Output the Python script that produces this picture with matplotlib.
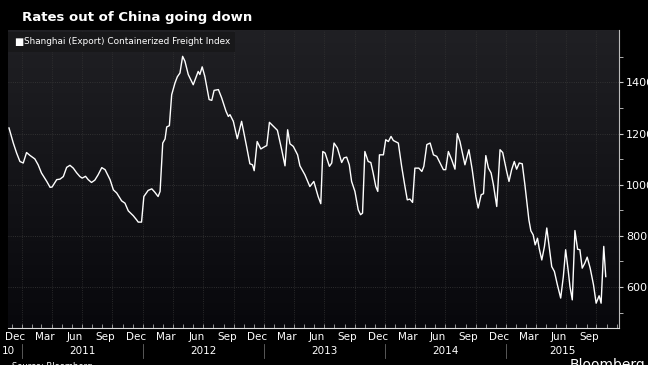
import matplotlib.pyplot as plt
import matplotlib.dates as mdates
import matplotlib.colors as mcolors
import numpy as np
import pandas as pd

title = 'Rates out of China going down'
series_name = 'Shanghai (Export) Containerized Freight Index'

dates = [
    '2010-11-23', '2010-12-06', '2010-12-16', '2010-12-26', '2011-01-05', '2011-01-15',
    '2011-01-25', '2011-02-09', '2011-02-19', '2011-03-01', '2011-03-17', '2011-03-27',
    '2011-04-02', '2011-04-16', '2011-04-26', '2011-05-06', '2011-05-16', '2011-05-26',
    '2011-06-05', '2011-06-15', '2011-06-25', '2011-07-02', '2011-07-12', '2011-07-20',
    '2011-07-30', '2011-08-09', '2011-08-19', '2011-08-30', '2011-09-09', '2011-09-24',
    '2011-10-04', '2011-10-14', '2011-10-29', '2011-11-08', '2011-11-18', '2011-12-03',
    '2011-12-13', '2011-12-18', '2011-12-28', '2012-01-04', '2012-01-17', '2012-01-28',
    '2012-02-06', '2012-02-16', '2012-02-22', '2012-03-01', '2012-03-08', '2012-03-13',
    '2012-03-21', '2012-03-28', '2012-04-07', '2012-04-14', '2012-04-22', '2012-04-30',
    '2012-05-07', '2012-05-17', '2012-06-01', '2012-06-16', '2012-06-21', '2012-06-28',
    '2012-07-06', '2012-07-19', '2012-07-27', '2012-08-03', '2012-08-16', '2012-08-26',
    '2012-09-08', '2012-09-15', '2012-09-20', '2012-09-30', '2012-10-12', '2012-10-25',
    '2012-11-09', '2012-11-19', '2012-11-27', '2012-12-02', '2012-12-11', '2012-12-22',
    '2013-01-04', '2013-01-09', '2013-01-17', '2013-01-27', '2013-02-10', '2013-02-23',
    '2013-03-05', '2013-03-13', '2013-03-20', '2013-03-30', '2013-04-12', '2013-04-19',
    '2013-05-04', '2013-05-19', '2013-05-31', '2013-06-13', '2013-06-21', '2013-06-27',
    '2013-07-04', '2013-07-17', '2013-07-24', '2013-07-31', '2013-08-10', '2013-08-23',
    '2013-08-30', '2013-09-07', '2013-09-15', '2013-09-22', '2013-10-02', '2013-10-12',
    '2013-10-19', '2013-10-25', '2013-11-01', '2013-11-11', '2013-11-19', '2013-11-26',
    '2013-12-04', '2013-12-10', '2013-12-15', '2013-12-27', '2014-01-03', '2014-01-11',
    '2014-01-19', '2014-01-26', '2014-02-10', '2014-02-20', '2014-03-02', '2014-03-09',
    '2014-03-17', '2014-03-25', '2014-04-01', '2014-04-13', '2014-04-22', '2014-04-28',
    '2014-05-07', '2014-05-17', '2014-05-27', '2014-06-06', '2014-06-16', '2014-06-26',
    '2014-07-03', '2014-07-11', '2014-07-21', '2014-07-31', '2014-08-07', '2014-08-15',
    '2014-08-30', '2014-09-11', '2014-09-21', '2014-10-02', '2014-10-09', '2014-10-18',
    '2014-10-25', '2014-11-01', '2014-11-09', '2014-11-17', '2014-11-24', '2014-12-04',
    '2014-12-14', '2014-12-22', '2015-01-03', '2015-01-10', '2015-01-18', '2015-01-26',
    '2015-02-02', '2015-02-10', '2015-02-19', '2015-02-27', '2015-03-11', '2015-03-17',
    '2015-03-24', '2015-03-30', '2015-04-06', '2015-04-11', '2015-04-19', '2015-04-27',
    '2015-05-04', '2015-05-11', '2015-05-19', '2015-05-27', '2015-06-05', '2015-06-15',
    '2015-06-23', '2015-06-30', '2015-07-08', '2015-07-13', '2015-07-20', '2015-07-28',
    '2015-08-05', '2015-08-12', '2015-08-19', '2015-08-27', '2015-09-03', '2015-09-12',
    '2015-09-22', '2015-09-30', '2015-10-09', '2015-10-15', '2015-10-23', '2015-10-29',
]

values = [
    1222, 1163, 1124, 1091, 1085, 1126, 1115, 1101, 1078, 1046, 1013, 990,
    991, 1020, 1022, 1032, 1068, 1076, 1065, 1047, 1032, 1026, 1033, 1020,
    1009, 1018, 1039, 1067, 1059, 1020, 980, 968, 937, 928, 898, 879,
    863, 854, 854, 954, 978, 984, 971, 954, 974, 1163, 1179, 1226,
    1231, 1352, 1398, 1422, 1437, 1502, 1483, 1431, 1391, 1443, 1431, 1461,
    1424, 1333, 1330, 1369, 1372, 1339, 1287, 1267, 1274, 1248, 1180, 1248,
    1150, 1082, 1078, 1055, 1169, 1140, 1150, 1153, 1244, 1231, 1213, 1137,
    1074, 1215, 1160, 1150, 1117, 1074, 1039, 993, 1013, 954, 926, 1130,
    1124, 1072, 1085, 1163, 1144, 1087, 1105, 1108, 1078, 1013, 974, 902,
    883, 889, 1130, 1091, 1087, 1046, 993, 974, 1117, 1117, 1176, 1169,
    1189, 1173, 1163, 1072, 993, 941, 944, 931, 1065, 1065, 1052, 1072,
    1157, 1163, 1117, 1111, 1085, 1059, 1059, 1130, 1098, 1061, 1200, 1169,
    1078, 1137, 1059, 954, 909, 961, 965, 1114, 1065, 1046, 1000, 915,
    1137, 1126, 1052, 1013, 1059, 1091, 1061, 1085, 1082, 1000, 863, 820,
    804, 765, 791, 752, 706, 759, 831, 759, 680, 661, 609, 557,
    641, 746, 661, 602, 550, 821, 748, 746, 674, 694, 717, 674,
    609, 537, 566, 537, 759, 641,
]

years = [2011, 2012, 2013, 2014, 2015]

dates = pd.to_datetime(dates)
x_start, x_end = pd.Timestamp('2010-11-20'), pd.Timestamp('2015-12-08')

fig = plt.figure(figsize=(6.48, 3.65), dpi=100, facecolor='black')
ax = fig.add_axes([8 / 648, 37 / 365, 611 / 648, 298 / 365])

# dark gradient panel
cmap = mcolors.LinearSegmentedColormap.from_list('bg', ['#08080c', '#202024'])
grad = np.linspace(0, 1, 256).reshape(-1, 1)
ax.imshow(grad, extent=[0, 1, 0, 1], transform=ax.transAxes, aspect='auto',
          cmap=cmap, origin='lower', zorder=0)

ax.plot(dates, values, color='white', lw=1.0, zorder=3)

ax.set_xlim(x_start, x_end)
ax.set_ylim(440, 1605)

# y axis on the right
ax.yaxis.tick_right()
ax.set_yticks([600, 800, 1000, 1200, 1400])
ax.set_yticks([500, 700, 900, 1100, 1300, 1500], minor=True)
ax.tick_params(axis='y', which='both', colors='#cccccc', labelcolor='white',
               labelsize=8, length=3, pad=2, direction='out')
ax.grid(axis='y', which='major', color='#3a3a3a', lw=0.6, ls=':')

# quarter grid lines
for q in pd.date_range('2011-01-01', '2015-12-01', freq='QS'):
    ax.axvline(q, color='#333333', lw=0.6, ls=':', zorder=1)

# month labels and monthly tick marks
ax.xaxis.set_major_locator(mdates.MonthLocator(bymonth=[3, 6, 9, 12], bymonthday=10))
ax.xaxis.set_major_formatter(mdates.DateFormatter('%b'))
ax.xaxis.set_minor_locator(mdates.MonthLocator())
ax.tick_params(axis='x', which='major', length=0, colors='white', labelsize=7.5, pad=3)
ax.tick_params(axis='x', which='minor', length=3, direction='in', color='#aaaaaa')

for s in ['top', 'left']:
    ax.spines[s].set_visible(False)
ax.spines['right'].set_color('#bbbbbb')
ax.spines['bottom'].set_color('#dddddd')
ax.spines['right'].set_linewidth(0.8)
ax.spines['bottom'].set_linewidth(0.8)

# year row
trans = ax.get_xaxis_transform()
fig.text(2 / 648, 1 - 351 / 365, '10', color='white', fontsize=7.5,
         ha='left', va='center')
for y in years:
    y0 = pd.Timestamp(f'{y}-01-01')
    y1 = min(pd.Timestamp(f'{y + 1}-01-01'), x_end)
    ax.text(y0 + (y1 - y0) / 2, -0.077, str(y), transform=trans,
            color='white', fontsize=7.5, ha='center', va='center')
    ax.plot([y0, y0], [-0.055, -0.1], transform=trans,
            color='#666666', lw=0.6, clip_on=False)

# legend box
fig.patches.append(plt.Rectangle((8 / 648, 1 - 52 / 365), 227 / 648, 20 / 365,
                                 transform=fig.transFigure, facecolor='#18181a',
                                 edgecolor='none', zorder=5))
fig.text(14 / 648, 1 - 42 / 365, '\u25a0', color='white', fontsize=7,
         va='center', ha='left', zorder=6)
fig.text(24 / 648, 1 - 42 / 365, series_name, color='white', fontsize=6.4,
         va='center', ha='left', zorder=6)

fig.text(22 / 648, 1 - 18 / 365, title, color='white', fontsize=9.5,
         fontweight='bold', va='center', ha='left')

fig.text(12 / 648, -0.005, 'Source: Bloomberg', color='white', fontsize=6,
         va='center', ha='left')
fig.text(570 / 648, 0.0, 'Bloomberg', color='white', fontsize=10,
         va='center', ha='left')

fig.savefig('out.png', dpi=100, facecolor='black')
